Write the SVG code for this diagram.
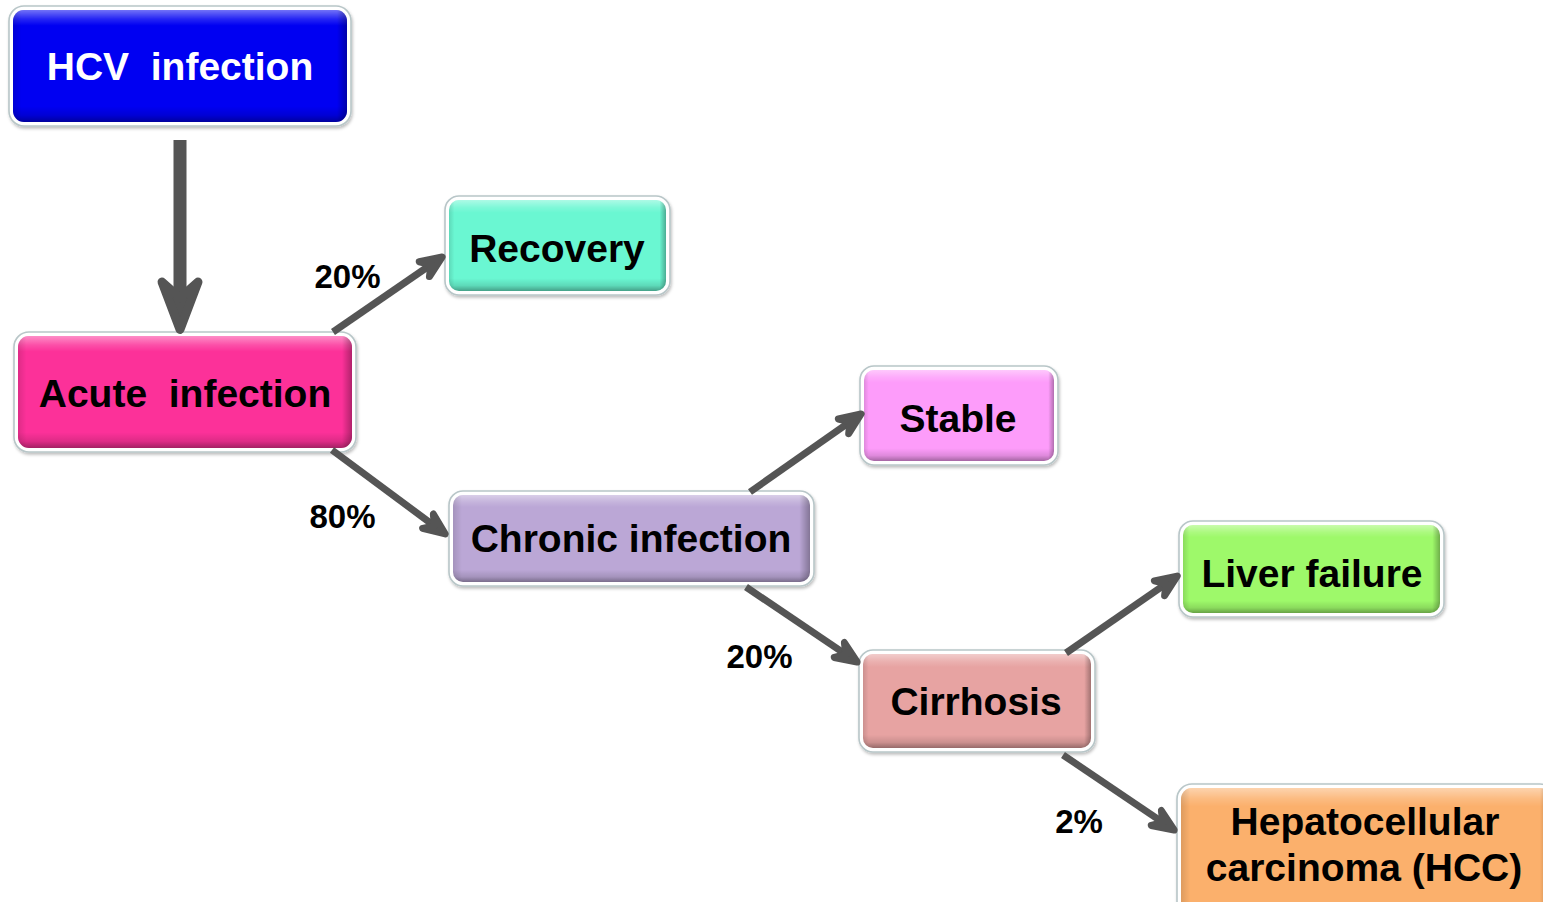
<svg xmlns="http://www.w3.org/2000/svg" width="1543" height="902" viewBox="0 0 1543 902">
<defs>
<style>
.frame{fill:#ffffff;stroke:#b8c6c8;stroke-width:1.6;filter:url(#sh)}
.bevV{fill:url(#gV)}
.bevH{fill:url(#gH)}
.t{font-family:"Liberation Sans",Arial,sans-serif;font-weight:bold;font-size:39px;text-anchor:middle;fill:#000}
.w{fill:#fff}
.lbl{font-family:"Liberation Sans",Arial,sans-serif;font-weight:bold;font-size:33px;text-anchor:middle;fill:#000}
.con{stroke:#555;stroke-width:7;fill:none;marker-end:url(#head)}
.big{stroke:#555;stroke-width:13;fill:none;marker-end:url(#headBig)}
</style>
<filter id="sh" x="-10%" y="-10%" width="120%" height="130%">
<feDropShadow dx="1" dy="2" stdDeviation="1.5" flood-color="#000" flood-opacity="0.25"/>
</filter>
<linearGradient id="gV" x1="0" y1="0" x2="0" y2="1">
<stop offset="0" stop-color="#fff" stop-opacity="0.45"/>
<stop offset="0.08" stop-color="#fff" stop-opacity="0.15"/>
<stop offset="0.14" stop-color="#fff" stop-opacity="0"/>
<stop offset="0.86" stop-color="#000" stop-opacity="0"/>
<stop offset="0.94" stop-color="#000" stop-opacity="0.12"/>
<stop offset="1" stop-color="#000" stop-opacity="0.35"/>
</linearGradient>
<linearGradient id="gH" x1="0" y1="0" x2="1" y2="0">
<stop offset="0" stop-color="#000" stop-opacity="0.12"/>
<stop offset="0.025" stop-color="#000" stop-opacity="0"/>
<stop offset="0.97" stop-color="#000" stop-opacity="0"/>
<stop offset="1" stop-color="#000" stop-opacity="0.3"/>
</linearGradient>
<marker id="head" markerUnits="userSpaceOnUse" viewBox="-60 -30 70 60" markerWidth="70" markerHeight="60" refX="-15" refY="0" orient="auto">
<path d="M-3.5,0 L-25,-9 L-17,0 L-25,9 Z" fill="#555" stroke="#555" stroke-width="7" stroke-linejoin="round"/>
</marker>
<marker id="headBig" markerUnits="userSpaceOnUse" viewBox="-80 -40 90 80" markerWidth="90" markerHeight="80" refX="-34" refY="0" orient="auto">
<path d="M-4.5,0 L-52,-18 L-36,0 L-52,18 Z" fill="#555" stroke="#555" stroke-width="9" stroke-linejoin="round"/>
</marker>
</defs>
<rect width="1543" height="902" fill="#fff"/>

<g id="hcv">
<rect class="frame" x="9" y="6" width="342" height="120" rx="15"/>
<rect x="13" y="10" width="334" height="112" rx="11" fill="#0000f2"/>
<rect class="bevV" x="13" y="10" width="334" height="112" rx="11"/>
<rect class="bevH" x="13" y="10" width="334" height="112" rx="11"/>
<text class="t w" x="180" y="80" xml:space="preserve">HCV  infection</text>
</g>

<g id="acute">
<rect class="frame" x="14" y="332" width="342" height="120" rx="15"/>
<rect x="18" y="336" width="334" height="112" rx="11" fill="#fc3199"/>
<rect class="bevV" x="18" y="336" width="334" height="112" rx="11"/>
<rect class="bevH" x="18" y="336" width="334" height="112" rx="11"/>
<text class="t" x="185" y="407" xml:space="preserve">Acute  infection</text>
</g>

<g id="recovery">
<rect class="frame" x="445" y="196" width="225" height="99" rx="14"/>
<rect x="449" y="200" width="217" height="91" rx="10" fill="#6af7d2"/>
<rect class="bevV" x="449" y="200" width="217" height="91" rx="10"/>
<rect class="bevH" x="449" y="200" width="217" height="91" rx="10"/>
<text class="t" x="557" y="262">Recovery</text>
</g>

<g id="stable">
<rect class="frame" x="860" y="366" width="198" height="99" rx="14"/>
<rect x="864" y="370" width="190" height="91" rx="10" fill="#fd9cfa"/>
<rect class="bevV" x="864" y="370" width="190" height="91" rx="10"/>
<rect class="bevH" x="864" y="370" width="190" height="91" rx="10"/>
<text class="t" x="958" y="432">Stable</text>
</g>

<g id="chronic">
<rect class="frame" x="449" y="491" width="365" height="95" rx="14"/>
<rect x="453" y="495" width="357" height="87" rx="10" fill="#bba7d6"/>
<rect class="bevV" x="453" y="495" width="357" height="87" rx="10"/>
<rect class="bevH" x="453" y="495" width="357" height="87" rx="10"/>
<text class="t" x="631" y="552">Chronic infection</text>
</g>

<g id="liver">
<rect class="frame" x="1179" y="521" width="265" height="96" rx="14"/>
<rect x="1183" y="525" width="257" height="88" rx="10" fill="#9ef96a"/>
<rect class="bevV" x="1183" y="525" width="257" height="88" rx="10"/>
<rect class="bevH" x="1183" y="525" width="257" height="88" rx="10"/>
<text class="t" x="1312" y="587">Liver failure</text>
</g>

<g id="cirrhosis">
<rect class="frame" x="859" y="650" width="236" height="102" rx="14"/>
<rect x="863" y="654" width="228" height="94" rx="10" fill="#e7a3a2"/>
<rect class="bevV" x="863" y="654" width="228" height="94" rx="10"/>
<rect class="bevH" x="863" y="654" width="228" height="94" rx="10"/>
<text class="t" x="976" y="715">Cirrhosis</text>
</g>

<g id="hcc">
<rect class="frame" x="1177" y="784" width="378" height="140" rx="15"/>
<rect x="1181" y="788" width="370" height="132" rx="11" fill="#fbb06c"/>
<rect class="bevV" x="1181" y="788" width="370" height="132" rx="11"/>
<rect class="bevH" x="1181" y="788" width="370" height="132" rx="11"/>
<text class="t" x="1365" y="835">Hepatocellular</text>
<text class="t" x="1364" y="881">carcinoma (HCC)</text>
</g>

<g id="connectors">
<line class="big" x1="180" y1="140" x2="180" y2="300"/>
<line class="con" x1="333" y1="332" x2="432.6" y2="263.5"/>
<line class="con" x1="332" y1="450" x2="436" y2="527.1"/>
<line class="con" x1="750" y1="492" x2="851.7" y2="420.6"/>
<line class="con" x1="746" y1="587" x2="847.6" y2="655.6"/>
<line class="con" x1="1066" y1="653" x2="1167.7" y2="582.6"/>
<line class="con" x1="1063" y1="755" x2="1164.6" y2="823.6"/>
</g>

<g id="labels">
<text class="lbl" x="347.5" y="288">20%</text>
<text class="lbl" x="342.5" y="528">80%</text>
<text class="lbl" x="759.5" y="668">20%</text>
<text class="lbl" x="1079" y="833">2%</text>
</g>
</svg>
